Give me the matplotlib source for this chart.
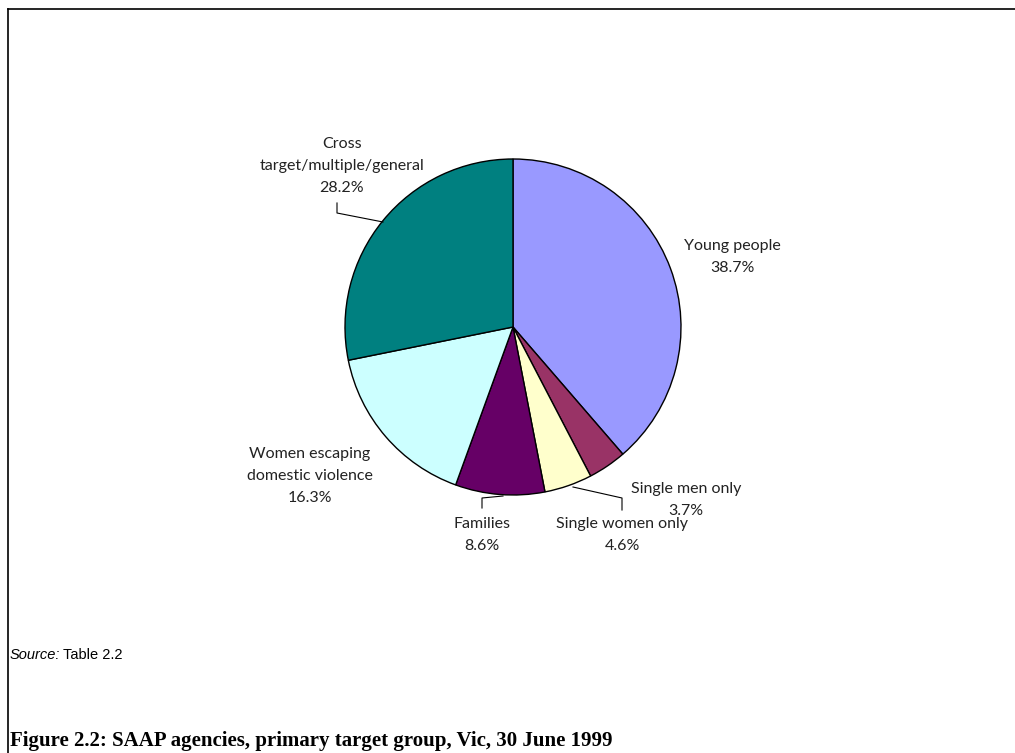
import matplotlib
matplotlib.use("Agg")
import matplotlib.pyplot as plt
from matplotlib.lines import Line2D

categories = ["Young people", "Single men only", "Single women only", "Families",
              "Women escaping\ndomestic violence", "Cross\ntarget/multiple/general"]
values = [38.7, 3.7, 4.6, 8.6, 16.3, 28.2]
colors = ["#9999FF", "#993366", "#FFFFCC", "#660066", "#CCFFFF", "#008080"]

W, H = 1015, 753
fig = plt.figure(figsize=(W / 100, H / 100), dpi=100)
ax = fig.add_axes([0, 0, 1, 1])
cx, cy, R = 513, 327, 168

ax.pie(values, colors=colors, startangle=90, counterclock=False, radius=1,
       wedgeprops=dict(edgecolor="black", linewidth=1.0))
ax.set_xlim(-cx / R, (W - cx) / R)
ax.set_ylim(-(H - cy) / R, cy / R)
ax.set_aspect("equal")
ax.axis("off")

def px(x, y):
    return ((x - cx) / R, (cy - y) / R)

font = dict(family="Lato", fontsize=11.5, color="#222222", ha="center", va="center",
            linespacing=1.75)
label_pos = [(732, 257), (686, 500), (622, 535), (482, 535), (310, 476), (342, 166)]
for cat, v, (x, y) in zip(categories, values, label_pos):
    ax.text(*px(x, y), f"{cat}\n{v:.1f}%", **font)

# leader lines
def leader(pts):
    xs, ys = zip(*[px(x, y) for x, y in pts])
    ax.add_line(Line2D(xs, ys, color="black", linewidth=0.8))

leader([(383, 222), (337, 213), (337, 203)])
leader([(573, 487), (622, 498), (622, 510)])
leader([(503, 496), (482, 498), (482, 508)])

# frame
fig.add_artist(Line2D([8 / W, 1], [1 - 9 / H, 1 - 9 / H], color="black", linewidth=1.2,
                      transform=fig.transFigure))
fig.add_artist(Line2D([8 / W, 8 / W], [1 - 9 / H, 0], color="black", linewidth=1.2,
                      transform=fig.transFigure))

fig.text(10 / W, 1 - 655 / H, "Source:", family="Liberation Sans", style="italic",
         fontsize=10.5, va="center", ha="left")
fig.text(63 / W, 1 - 655 / H, "Table 2.2", family="Liberation Sans",
         fontsize=10.5, va="center", ha="left")
fig.text(10 / W, 1 - 741 / H, "Figure 2.2: SAAP agencies, primary target group, Vic, 30 June 1999",
         family="Liberation Serif", weight="bold", fontsize=15, va="center", ha="left")

fig.savefig("out.png", dpi=100)
